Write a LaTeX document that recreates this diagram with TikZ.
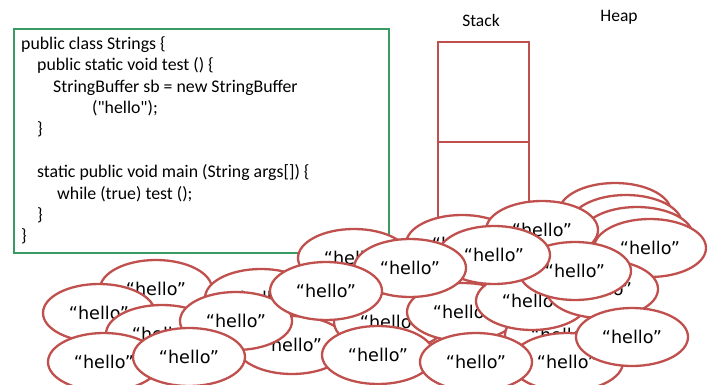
\documentclass[tikz,border=0pt]{standalone}
\usepackage{fontspec}
\setmainfont{Carlito}
\newfontfamily\codefont{Carlito}
\newfontfamily\hellofont{DejaVu Sans}
\usetikzlibrary{shapes.geometric}
\definecolor{heapred}{HTML}{C0504D}
\definecolor{codegreen}{HTML}{3A9B62}
\begin{document}
\begin{tikzpicture}[x=1pt,y=-1pt,
  obj/.style={ellipse, draw=heapred, line width=2.3pt, fill=white,
    minimum width=112pt, minimum height=58pt, inner sep=0pt,
    font=\hellofont\fontsize{17.6}{20}\selectfont},
  codeline/.style={anchor=base west, inner sep=0pt,
    font=\codefont\fontsize{17.8}{21}\selectfont},
  title/.style={inner sep=0pt, font=\fontsize{17.5}{21}\selectfont},
  frame/.style={draw=heapred, line width=2.4pt, minimum width=91pt, anchor=north west, inner sep=0pt}]
\useasboundingbox (0,0) rectangle (714,385);
\clip (0,0) rectangle (714,385);

% source code panel
\node[draw=codegreen, line width=2.4pt, fill=white, minimum width=375pt,
  minimum height=224pt, anchor=north west, inner sep=0pt] (codebox) at (13,28) {};
\node[codeline] (c1) at (21,49.3) {public class Strings \{};
\node[codeline] (c2) at (37,70.7) {public static void test () \{};
\node[codeline] (c3) at (53,92.1) {StringBuffer sb = new StringBuffer};
\node[codeline] (c4) at (92,113.5) {("hello");};
\node[codeline] (c5) at (37,134.9) {\}};
\node[codeline] (c7) at (37,177.7) {static public void main (String args[]) \{};
\node[codeline] (c8) at (57,199.1) {while (true) test ();};
\node[codeline] (c9) at (37,220.5) {\}};
\node[codeline] (c10) at (21,241.9) {\}};

% stack frames and headings
\node[frame, minimum height=100pt] (frametop) at (437,41) {};
\node[frame, minimum height=180pt] (framelow) at (437,141) {};
\node[title] (stacklbl) at (481,20) {Stack};
\node[title] (heaplbl) at (619,17) {Heap};

% heap objects, back to front
\node[obj] (k1) at (615,212) {};
\node[obj] (k2) at (626,224) {};
\node[obj] (k3) at (637,236) {};
\node[obj] (k4) at (650,248) {“hello”};
\node[obj] (p) at (462,244) {“hello”};
\node[obj] (x) at (542,230) {“hello”};
\node[obj] (n) at (354,258) {“hello”};
\node[obj] (a) at (156,289) {“hello”};
\node[obj] (b) at (99,313) {“hello”};
\node[obj] (c) at (162,334) {“hello”};
\node[obj] (d) at (104,362) {“hello”};
\node[obj] (m) at (261,298) {“hello”};
\node[obj] (h) at (292,345) {“hello”};
\node[obj] (g) at (236,321) {“hello”};
\node[obj] (e) at (189,357) {“hello”};
\node[obj] (l) at (390,322) {“hello”};
\node[obj] (i) at (378,355) {“hello”};
\node[obj] (s) at (463,312) {“hello”};
\node[obj] (v) at (561,335) {“hello”};
\node[obj] (r) at (532,301) {“hello”};
\node[obj] (z) at (602,289) {“hello”};
\node[obj] (y) at (575,271) {“hello”};
\node[obj] (q) at (494,255) {“hello”};
\node[obj] (o) at (410,268) {“hello”};
\node[obj] (f) at (326,291) {“hello”};
\node[obj] (u) at (567,362) {“hello”};
\node[obj] (t) at (476,362) {“hello”};
\node[obj] (w) at (632,337) {“hello”};
\end{tikzpicture}
\end{document}
